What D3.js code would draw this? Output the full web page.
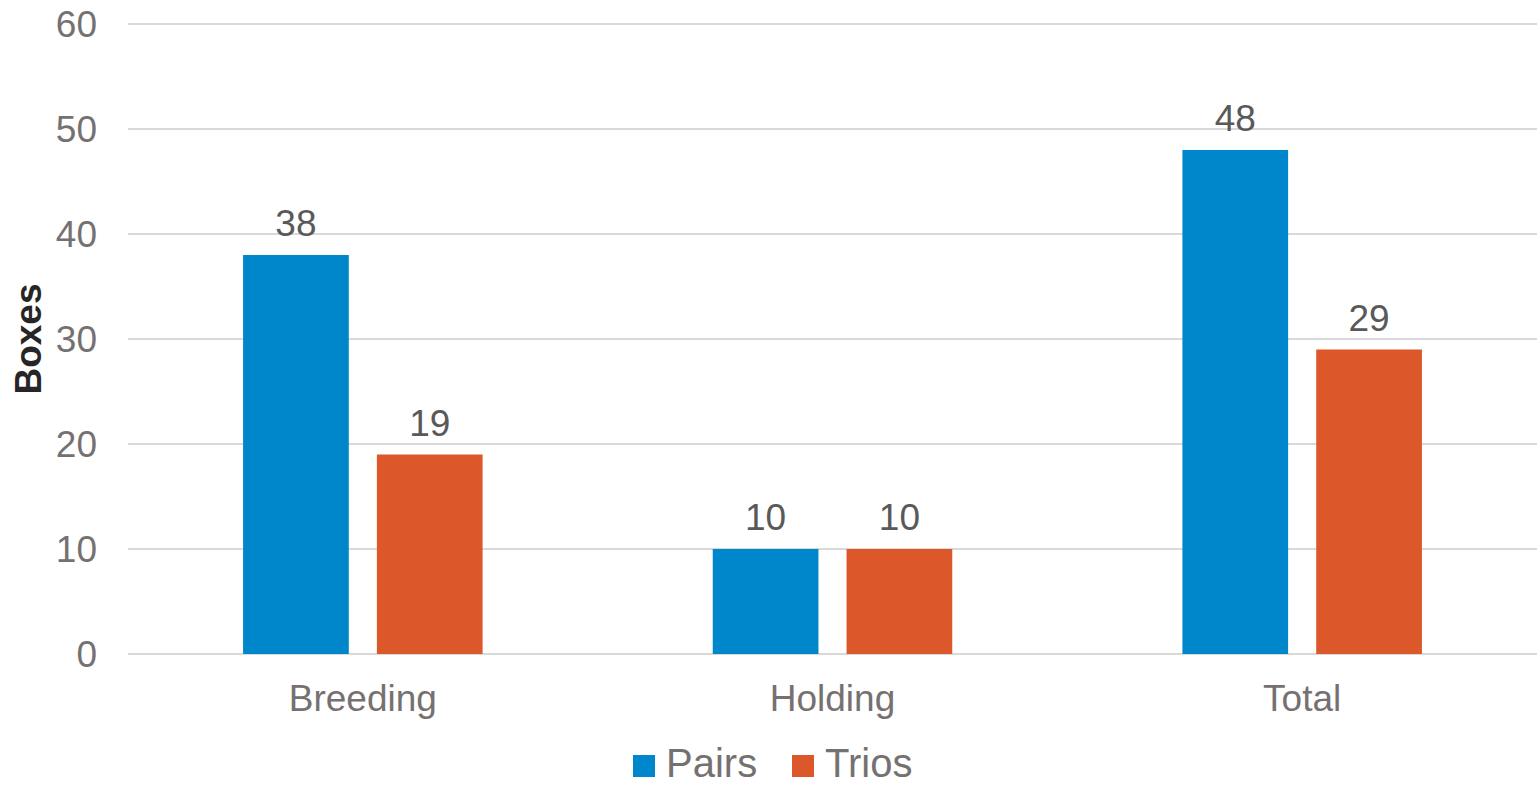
<!DOCTYPE html>
<html>
<head>
<meta charset="utf-8">
<script src="https://cdn.jsdelivr.net/npm/d3@7"></script>
<style>
  html, body { margin: 0; padding: 0; background: #fff; }
  svg { display: block; font-family: "Liberation Sans", Arial, sans-serif; }
</style>
</head>
<body>
<svg id="chart" width="1537" height="786"></svg>
<script>
// Box counts by use, split into pairs and trios
const categories = ["Breeding", "Holding", "Total"];
const seriesNames = ["Pairs", "Trios"];
const pairs = [38, 10, 48];
const trios = [19, 10, 29];
const yTicks = [0, 10, 20, 30, 40, 50, 60];
const colors = ["#0086CB", "#DC582A"];

const svg = d3.select("#chart");
const margin = { left: 128, right: 0, top: 24, bottom: 132 };
const W = 1537, H = 786;
const FONT = "Liberation Sans, Arial, sans-serif";

const x = d3.scaleBand().domain(categories).range([margin.left, W - margin.right]);
const xs = d3.scaleBand().domain(seriesNames).range([0, x.bandwidth()]).paddingInner(0.21).paddingOuter(0.86);
const y = d3.scaleLinear().domain([0, 60]).range([H - margin.bottom, margin.top]);

// horizontal gridlines
svg.append("g")
  .selectAll("line").data(yTicks).join("line")
  .attr("x1", margin.left).attr("x2", W)
  .attr("y1", d => y(d)).attr("y2", d => y(d))
  .attr("stroke", "#d9d9d9").attr("stroke-width", 2);

// y axis tick labels
const yAxis = d3.axisLeft(y).tickValues(yTicks).tickSize(0).tickPadding(0);
const gy = svg.append("g").attr("transform", "translate(97,0)").call(yAxis);
gy.select(".domain").remove();
gy.selectAll("text").attr("font-size", 37).attr("fill", "#767171")
  .attr("font-family", FONT).attr("dy", "0.34em");

// x axis category labels
const xAxis = d3.axisBottom(x).tickSize(0).tickPadding(0);
const gx = svg.append("g").attr("transform", `translate(0,${y(0)})`).call(xAxis);
gx.select(".domain").remove();
gx.selectAll("text").attr("font-size", 37).attr("fill", "#767171")
  .attr("font-family", FONT).attr("y", 57).attr("dy", 0);

// bars
const rows = categories.map((c, i) => ({ cat: c, vals: [pairs[i], trios[i]] }));
const groups = svg.append("g").selectAll("g").data(rows).join("g")
  .attr("transform", d => `translate(${x(d.cat)},0)`);

groups.selectAll("rect").data(d => d.vals.map((v, j) => ({ s: seriesNames[j], v, j })))
  .join("rect")
  .attr("x", d => xs(d.s)).attr("width", xs.bandwidth())
  .attr("y", d => y(d.v)).attr("height", d => y(0) - y(d.v))
  .attr("fill", d => colors[d.j]);

groups.selectAll("text.val").data(d => d.vals.map((v, j) => ({ s: seriesNames[j], v, j })))
  .join("text").attr("class", "val")
  .attr("x", d => xs(d.s) + xs.bandwidth() / 2)
  .attr("y", d => y(d.v) - 19)
  .attr("text-anchor", "middle")
  .attr("font-size", 37).attr("fill", "#595959")
  .text(d => d.v);

// y axis title
svg.append("text")
  .attr("transform", "translate(41,339) rotate(-90)")
  .attr("text-anchor", "middle")
  .attr("font-size", 37).attr("font-weight", "bold").attr("fill", "#262626")
  .text("Boxes");

// legend
const legend = svg.append("g");
const legendItems = [
  { name: seriesNames[0], color: colors[0], x: 633 },
  { name: seriesNames[1], color: colors[1], x: 792 }
];
legendItems.forEach(it => {
  legend.append("rect").attr("x", it.x).attr("y", 755).attr("width", 22).attr("height", 22).attr("fill", it.color);
  legend.append("text").attr("x", it.x + 33).attr("y", 777)
    .attr("font-size", 40).attr("fill", "#767171").text(it.name);
});
</script>
</body>
</html>
